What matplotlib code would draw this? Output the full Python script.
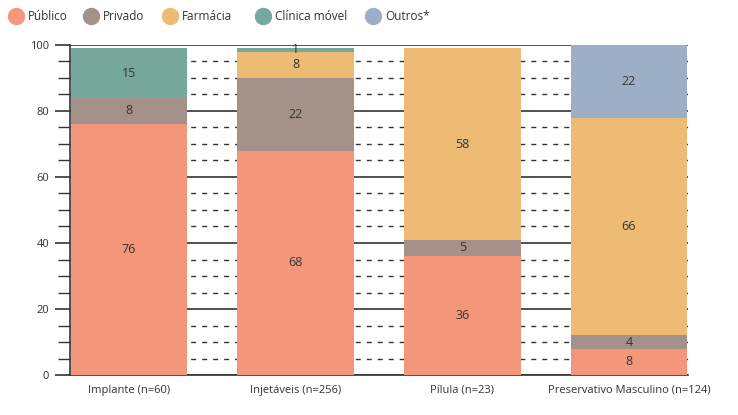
import matplotlib.pyplot as plt
from matplotlib.lines import Line2D
from matplotlib.ticker import MultipleLocator

plt.rcParams['font.family'] = ['Open Sans', 'DejaVu Sans']

categories = ["Implante (n=60)", "Injetáveis (n=256)", "Pílula (n=23)",
              "Preservativo Masculino (n=124)"]
series_names = ["Público", "Privado", "Farmácia", "Clínica móvel", "Outros*"]
publico = [76, 68, 36, 8]
privado = [8, 22, 5, 4]
farmacia = [0, 8, 58, 66]
clinica = [15, 1, 0, 0]
outros = [0, 0, 0, 22]

series = [publico, privado, farmacia, clinica, outros]
colors = ["#F4967A", "#A3918A", "#EEBB74", "#76A99B", "#9DAFC7"]
dark = "#333333"

fig = plt.figure(figsize=(7.38, 4.15), dpi=100)
ax = fig.add_axes([70 / 738, 1 - 375 / 415, (688 - 70) / 738, 330 / 415])

x = list(range(len(categories)))
bottom = [0] * len(categories)
for vals, col in zip(series, colors):
    ax.bar(x, vals, width=0.7, bottom=bottom, color=col, zorder=3)
    for i, v in enumerate(vals):
        if v > 0:
            ax.text(x[i], bottom[i] + v / 2, str(v), ha="center", va="center",
                    fontsize=9, color=dark, zorder=4)
    bottom = [b + v for b, v in zip(bottom, vals)]

ax.set_xlim(-0.354, 3.354)
ax.set_ylim(0, 100)
ax.yaxis.set_major_locator(MultipleLocator(20))
ax.yaxis.set_minor_locator(MultipleLocator(5))
ax.set_axisbelow(True)
ax.grid(axis="y", which="major", color=dark, linewidth=1.2, zorder=0)
ax.grid(axis="y", which="minor", color=dark, linewidth=1.0,
        linestyle=(0, (3.6, 4.3)), zorder=0)

for s in ["top", "right"]:
    ax.spines[s].set_visible(False)
ax.spines["left"].set_color(dark)
ax.spines["bottom"].set_color(dark)
ax.spines["left"].set_linewidth(1.2)
ax.spines["bottom"].set_linewidth(1.2)

ax.tick_params(axis="y", which="major", length=11, width=1.2, color=dark,
               labelsize=8, labelcolor=dark, pad=4)
ax.tick_params(axis="y", which="minor", length=9, width=1.0, color=dark)
ax.tick_params(axis="x", length=0, labelsize=8, labelcolor=dark, pad=7)
ax.set_xticks(x)
ax.set_xticklabels(categories)

# legend across the top
leg_x = [16, 91, 170, 263, 373]
for name, col, px in zip(series_names, colors, leg_x):
    fig.add_artist(Line2D([px / 738], [1 - 16 / 415], marker="o",
                          markersize=11.5, color=col, linestyle="none",
                          transform=fig.transFigure))
    fig.text((px + 12) / 738, 1 - 16 / 415, name, ha="left", va="center",
             fontsize=8.5, color=dark)

fig.savefig("out.png", dpi=100)
plt.close(fig)
